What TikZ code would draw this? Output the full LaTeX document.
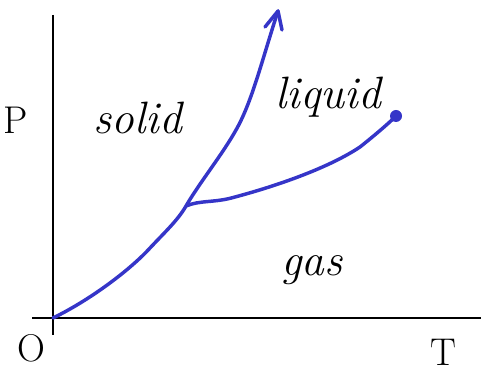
\documentclass[tikz,border=0pt]{standalone}
\usetikzlibrary{arrows.meta}
\definecolor{penblue}{HTML}{3535C8}
\begin{document}
\begin{tikzpicture}[x=0.75pt,y=-0.75pt,
  axis/.style={line width=1.6pt,black},
  curve/.style={line width=2.6pt,penblue,line cap=round,line join=round},
  lbl/.style={font=\itshape\fontsize{34}{34}\selectfont,inner sep=0pt},
  axlbl/.style={font=\fontsize{29}{29}\selectfont,inner sep=0pt}]
\useasboundingbox (0,0) rectangle (481,373);
% axes
\draw[axis] (53,15) -- (53,335);
\draw[axis] (32,318) -- (481,318);
% solid-liquid / solid-gas curve
\coordinate (origin) at (53,318);
\coordinate (triple) at (186,206);
\coordinate (tip) at (278,11);
\coordinate (crit) at (396,116);
\draw[curve] (origin) .. controls (90,300) and (130,270) .. (150,248)
  .. controls (165,232) and (178,220) .. (triple)
  .. controls (200,182) and (222,155) .. (236,130)
  .. controls (252,102) and (262,60) .. (tip);
\draw[curve] (265,27) -- (tip) -- (282,30);
% liquid-gas curve
\draw[curve] (triple) .. controls (200,200) and (215,203) .. (235,197)
  .. controls (280,185) and (330,167) .. (360,147)
  .. controls (375,135) and (388,124) .. (crit);
\fill[penblue] (crit) circle (6);
% labels
\node[lbl] (solid) at (138,118) {solid};
\node[lbl] (liquid) at (328,97) {liquid};
\node[lbl] (gas) at (312,270) {gas};
\node[axlbl] (P) at (16,120) {P};
\node[axlbl] (O) at (31,348) {O};
\node[axlbl] (T) at (443,352) {T};
\end{tikzpicture}
\end{document}
